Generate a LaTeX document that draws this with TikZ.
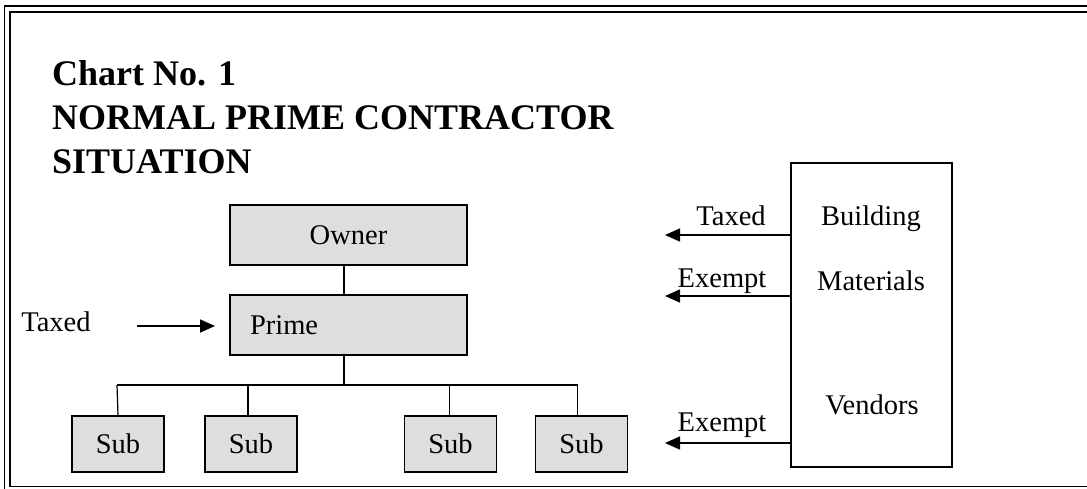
\documentclass[tikz,border=0pt]{standalone}
\usepackage{fontspec}
\setmainfont{Liberation Serif}
\usetikzlibrary{arrows.meta}
\begin{document}
\begin{tikzpicture}[x=1pt,y=-1pt,
  body/.style={font=\fontsize{28.5}{30}\selectfont},
  greybox/.style={draw,line width=1.6pt,fill=boxgrey,inner sep=0pt,body},
  subbox/.style={greybox,minimum width=92pt,minimum height=56pt},
  wire/.style={line width=1.2pt},
  arr/.style={line width=1.6pt,-{Triangle[length=15pt,width=13pt]}},
  lbl/.style={body,inner sep=0pt,anchor=base},
  frame/.style={line width=1.8pt}]
\definecolor{boxgrey}{gray}{0.87}
\useasboundingbox (0,0) rectangle (1087,488);

% double page frame
\draw[frame] (4.5,6) rectangle (1096,496);
\draw[frame] (10,12) rectangle (1091,486.5);

% title
\node[font=\fontsize{36}{40}\selectfont\bfseries,inner sep=0pt,anchor=base west] (t1) at (52,85) {Chart No. 1};
\node[font=\fontsize{36}{40}\selectfont\bfseries,inner sep=0pt,anchor=base west] (t2) at (52,129) {NORMAL PRIME CONTRACTOR};
\node[font=\fontsize{36}{40}\selectfont\bfseries,inner sep=0pt,anchor=base west] (t3) at (52,173) {SITUATION};

% organisation tree
\node[greybox,minimum width=237pt,minimum height=60pt] (owner) at (348.5,235) {Owner};
\node[greybox,text width=197pt,inner xsep=20pt,minimum height=60pt,align=left] (prime) at (348.5,325) {Prime};
\node[subbox] (sub1) at (118,444) {Sub};
\node[subbox] (sub2) at (251,444) {Sub};
\node[subbox] (sub3) at (450.5,444) {\raisebox{-5pt}{Sub}};
\node[subbox] (sub4) at (581.5,444) {Sub};

\coordinate (bus) at (344,385);
\draw[wire] (bus |- owner.south) -- (bus |- prime.north);
\draw[wire] (bus |- prime.south) -- (bus);
\draw[wire] ([xshift=-1pt]sub1.north |- bus) -- ([xshift=-4pt]sub4.north |- bus);
\draw[wire] (sub1.north) -- ([xshift=-1pt]sub1.north |- bus);
\draw[wire] ([xshift=-3pt]sub2.north) -- ([xshift=-3pt]sub2.north |- bus);
\draw[wire] ([xshift=-1pt]sub3.north) -- ([xshift=-1pt]sub3.north |- bus);
\draw[wire] ([xshift=-4pt]sub4.north) -- ([xshift=-4pt]sub4.north |- bus);

% tax on the prime contractor
\node[lbl] (taxl) at (56,331) {Taxed};
\coordinate (taxs) at (137,326);
\coordinate (taxe) at (215,326);
\draw[arr] (taxs) -- (taxe);

% building materials vendors
\node[draw,line width=1.6pt,minimum width=161pt,minimum height=304pt,inner sep=0pt] (vend) at (871.5,315) {};
\node[lbl] (bld) at (871,225) {Building};
\node[lbl] (mat) at (871,290) {Materials};
\node[lbl] (ven) at (872,414) {Vendors};

\coordinate (a1) at (665,235);
\coordinate (a2) at (665,296);
\coordinate (a3) at (665,443);
\draw[arr] (a1 -| vend.west) -- (a1);
\draw[arr] (a2 -| vend.west) -- (a2);
\draw[arr] (a3 -| vend.west) -- (a3);
\node[lbl] (l1) at (731,225) {Taxed};
\node[lbl] (l2) at (722,287) {Exempt};
\node[lbl] (l3) at (722,431) {Exempt};
\end{tikzpicture}
\end{document}
